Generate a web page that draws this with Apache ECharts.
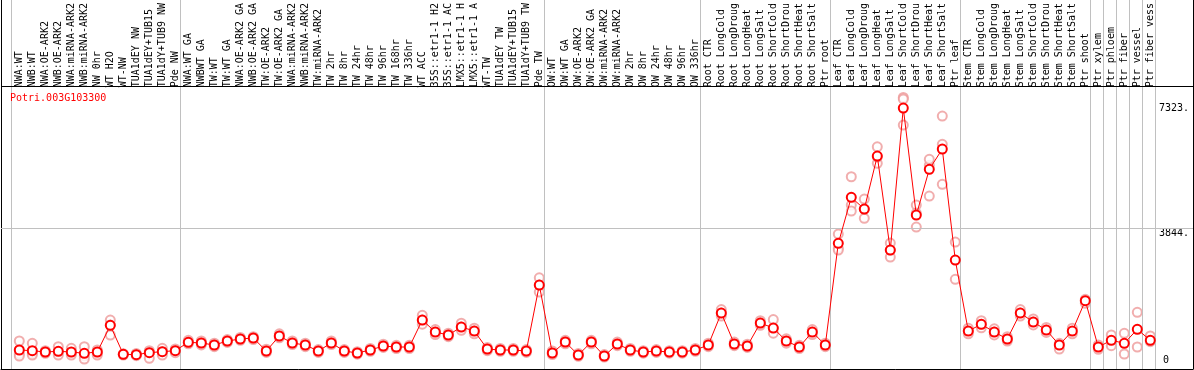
<!DOCTYPE html>
<html><head><meta charset="utf-8">
<script src="https://cdn.jsdelivr.net/npm/echarts@6/dist/echarts.min.js"></script>
<style>html,body{margin:0;padding:0;background:#fff}#c{width:1194px;height:370px}</style>
</head><body><div id="c"></div>
<script>
const title = 'Potri.003G103300';
const categories = ['NWA:WT','NWB:WT','NWA:OE-ARK2','NWB:OE-ARK2','NWA:miRNA-ARK2','NWB:miRNA-ARK2','NW 0hr','WT H2O','WT-NW','TUA1dEY NW','TUA1dEY+TUB15','TUA1dY+TUB9 NW','Pde NW',
'NWA:WT GA','NWBWT GA','TW:WT','TW:WT GA','NWA:OE-ARK2 GA','NWB:OE-ARK2 GA','TW:OE-ARK2','TW:OE-ARK2 GA','NWA:miRNA-ARK2','NWB:miRNA-ARK2','TW:miRNA-ARK2','TW 2hr','TW 8hr','TW 24hr','TW 48hr','TW 96hr','TW 168hr','TW 336hr','WT ACC','35S::etr1-1 H2','35S::etr1-1 AC','LMX5::etr1-1 H','LMX5::etr1-1 A','WT-TW','TUA1dEY TW','TUA1dEY+TUB15','TUA1dY+TUB9 TW','Pde TW',
'OW:WT','OW:WT GA','OW:OE-ARK2','OW:OE-ARK2 GA','OW:miRNA-ARK2','OW:miRNA-ARK2','OW 2hr','OW 8hr','OW 24hr','OW 48hr','OW 96hr','OW 336hr',
'Root CTR','Root LongCold','Root LongDroug','Root LongHeat','Root LongSalt','Root ShortCold','Root ShortDrou','Root ShortHeat','Root ShortSalt','Ptr root',
'Leaf CTR','Leaf LongCold','Leaf LongDroug','Leaf LongHeat','Leaf LongSalt','Leaf ShortCold','Leaf ShortDrou','Leaf ShortHeat','Leaf ShortSalt','Ptr leaf',
'Stem CTR','Stem LongCold','Stem LongDroug','Stem LongHeat','Stem LongSalt','Stem ShortCold','Stem ShortDrou','Stem ShortHeat','Stem ShortSalt','Ptr shoot',
'Ptr xylem','Ptr phloem','Ptr fiber','Ptr vessel','Ptr fiber vess'];
const means = [428,409,372,392,372,336,372,1120,308,297,353,381,409,
644,624,568,680,736,764,400,820,624,568,400,624,400,344,428,540,512,512,1268,932,848,1072,960,456,428,428,400,2248,
344,652,288,652,260,596,428,372,400,372,372,428,
568,1464,596,540,1184,1044,680,512,932,568,
3416,4704,4376,5860,3228,7204,4208,5488,6056,2948,
960,1148,932,736,1464,1212,988,568,960,1809,
512,700,616,1008,700];
const rep1 = [680,616,409,521,476,521,428,1268,320,330,409,476,456,
700,680,620,720,780,800,450,880,680,620,440,680,440,380,470,590,560,560,1400,1000,900,1180,1040,500,470,470,440,2450,
400,700,330,700,300,650,470,410,440,410,410,470,
620,1560,650,590,1250,1280,740,560,1000,620,
3676,5281,4656,6121,3424,7504,4488,5600,6980,3452,
1040,1250,1020,800,1560,1300,1060,616,1040,1848,
448,848,896,1484,820];
const rep2 = [316,336,372,367,352,260,336,1128,308,297,353,381,409,
644,624,568,680,736,764,400,820,624,568,400,624,400,344,428,540,512,512,1268,932,848,1072,960,456,428,428,400,2248,
344,652,288,652,260,596,428,372,400,372,372,428,
568,1464,596,540,1184,1044,680,512,932,520,
3276,4488,4116,5656,3032,7456,4264,5768,6188,2408,
960,1148,932,736,1464,1212,988,456,880,1736,
568,549,316,512,661];
const rep3 = [260,288,336,288,288,176,288,848,288,270,196,288,353,
600,570,520,640,700,720,360,770,580,520,360,580,360,310,390,500,470,470,1150,860,800,980,880,410,390,390,360,2050,
300,600,250,600,230,550,390,340,360,340,340,390,
520,1380,550,500,1120,900,620,470,860,null,
3228,4320,4376,5832,3228,6728,3872,4740,5068,null,
880,1050,850,680,1380,1130,920,null,null,null,
null,null,null,null,null];
const yTicks = [3844, 7323];
const yTickZero = [0];
const separatorsAfter = [-1,12,40,52,62,72,82,83,84,85,86,87];

const pts = a => a.map((v,i)=>v==null?null:[i,v]).filter(p=>p);
const MONO = 'DejaVu Sans Mono';
const X_MIN = -1.4077, X_MAX = 90.285;
const Y_MIN = -104, Y_MAX = 10232;

const chart = echarts.init(document.getElementById('c'), null, {renderer:'canvas'});
chart.setOption({
  animation:false,
  backgroundColor:'#fff',
  title:{text:title,left:5,top:88,textStyle:{fontFamily:MONO,fontSize:10,fontWeight:'normal',color:'#ff0000'}},
  grid:[
    {left:1,right:1,top:0,height:369,show:false},
    {left:12.8,width:1144,top:86,height:283,show:false}
  ],
  xAxis:[
    {type:'value',gridIndex:0,min:X_MIN,max:X_MAX,position:'bottom',
     axisLine:{show:true,onZero:false,lineStyle:{color:'#000',width:1}},axisTick:{show:false},axisLabel:{show:false},splitLine:{show:false}},
    {type:'category',gridIndex:1,data:categories,position:'top',boundaryGap:true,
     axisLine:{show:false},axisTick:{show:false},splitLine:{show:false},
     axisLabel:{interval:0,rotate:90,margin:2,fontFamily:MONO,fontSize:10,color:'#000'}}
  ],
  yAxis:[
    {type:'value',gridIndex:0,min:Y_MIN,max:Y_MAX,position:'right',
     axisLine:{show:true,onZero:false,lineStyle:{color:'#000'}},axisTick:{show:false},splitLine:{show:false},
     axisLabel:{inside:true,margin:4,customValues:yTicks,formatter:v=>v+'.',verticalAlign:'top',fontFamily:MONO,fontSize:10,color:'#000'}},
    {type:'value',gridIndex:0,min:Y_MIN,max:Y_MAX,position:'left',
     axisLine:{show:true,onZero:false,lineStyle:{color:'#000'}},axisTick:{show:false},splitLine:{show:false},axisLabel:{show:false}},
    {type:'value',gridIndex:0,min:Y_MIN,max:Y_MAX,position:'right',
     axisLine:{show:false,onZero:false},axisTick:{show:false},splitLine:{show:false},
     axisLabel:{inside:true,margin:24,customValues:yTickZero,verticalAlign:'bottom',fontFamily:MONO,fontSize:10,color:'#000'}},
    {type:'value',gridIndex:1,show:false}
  ],
  series:[
    {type:'line',xAxisIndex:0,yAxisIndex:0,data:[],silent:true,
     markLine:{silent:true,symbol:'none',label:{show:false},
       data:separatorsAfter.map(k=>({xAxis:k+0.36,lineStyle:{color:'#c0c0c0',width:1,type:'solid'}}))
         .concat(yTicks.slice(0,1).map(v=>({yAxis:v,lineStyle:{color:'#c0c0c0',width:1,type:'solid'}})))
         .concat([{yAxis:7815,lineStyle:{color:'#000',width:1,type:'solid'}}])}},
    {type:'scatter',xAxisIndex:0,yAxisIndex:0,data:pts(rep1),symbol:'emptyCircle',symbolSize:9,itemStyle:{color:'#ee9a9a',borderWidth:1.2},z:2},
    {type:'scatter',xAxisIndex:0,yAxisIndex:0,data:pts(rep2),symbol:'emptyCircle',symbolSize:9,itemStyle:{color:'#ee9a9a',borderWidth:1.2},z:2},
    {type:'scatter',xAxisIndex:0,yAxisIndex:0,data:pts(rep3),symbol:'emptyCircle',symbolSize:9,itemStyle:{color:'#ee9a9a',borderWidth:1.2},z:2},
    {type:'line',xAxisIndex:0,yAxisIndex:0,data:pts(means),symbol:'emptyCircle',symbolSize:9,showAllSymbol:true,
     lineStyle:{color:'#ff0000',width:1},itemStyle:{color:'#ff0000',borderWidth:1.3},z:5}
  ]
});
</script></body></html>
